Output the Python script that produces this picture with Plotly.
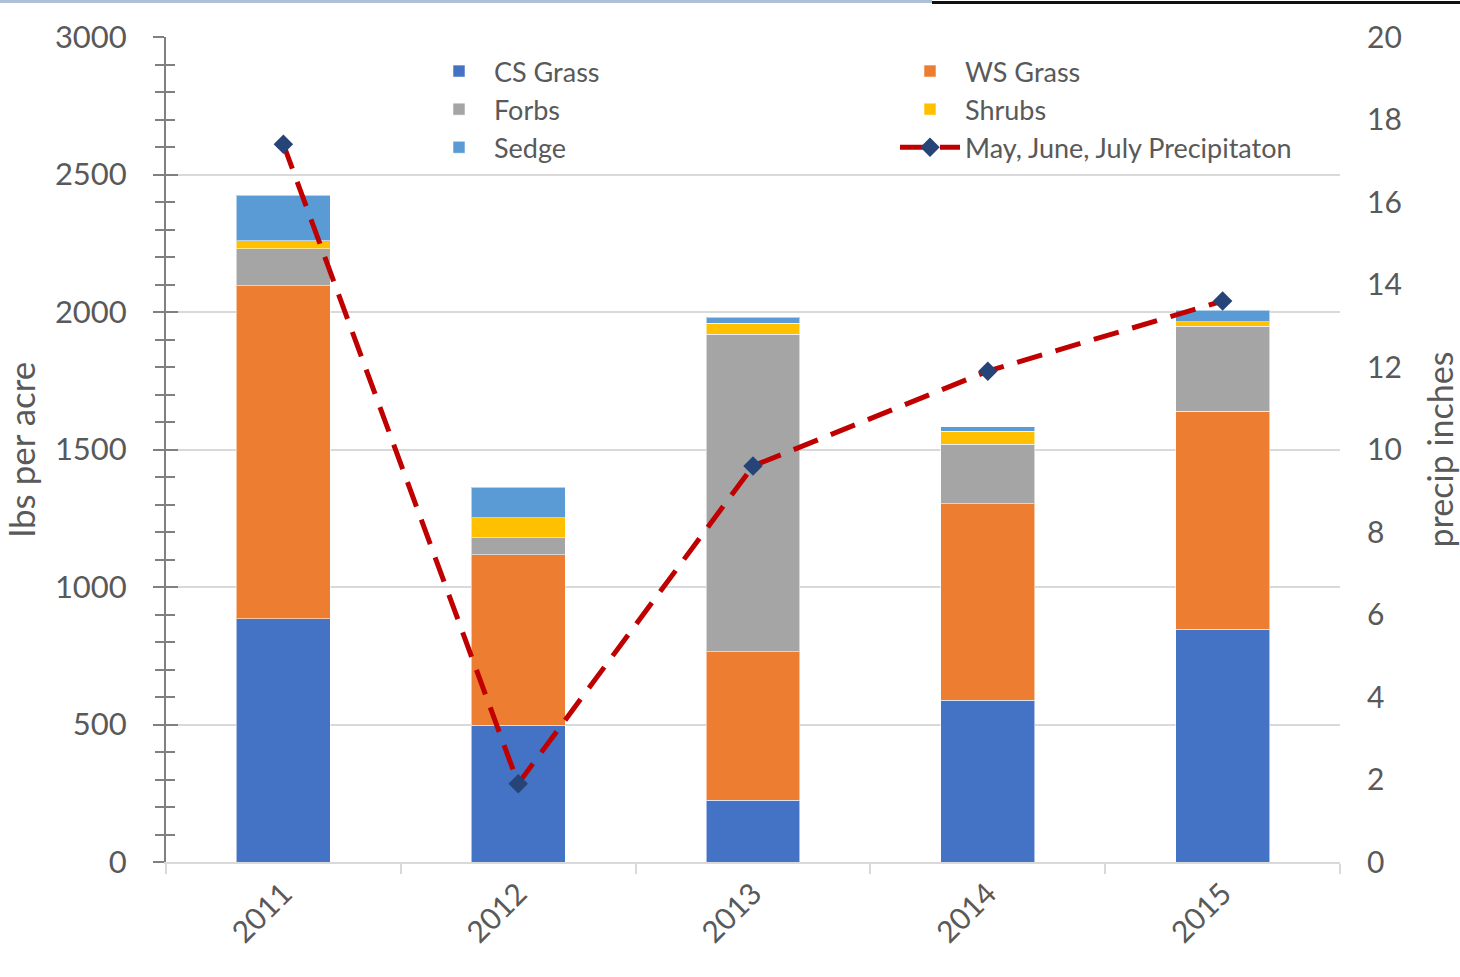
import plotly.graph_objects as go

# Annual forage production by plant group (lbs per acre) and summer rainfall
years = ["2011", "2012", "2013", "2014", "2015"]
cs_grass = [885, 497, 225, 589, 847]
ws_grass = [1210, 620, 539, 713, 793]
forbs = [135, 62, 1155, 217, 308]
shrubs = [29, 73, 41, 48, 16]
sedge = [166, 110, 21, 15, 43]
precip = [17.4, 1.9, 9.6, 11.9, 13.6]

series = [
    ("CS Grass", cs_grass, "#4472C4"),
    ("WS Grass", ws_grass, "#ED7D31"),
    ("Forbs", forbs, "#A5A5A5"),
    ("Shrubs", shrubs, "#FFC000"),
    ("Sedge", sedge, "#5B9BD5"),
]

W, H = 1460, 977
ML, MR, MT, MB = 166, 120, 37, 115
PW, PH = W - ML - MR, H - MT - MB

FONT = "Lato"
TXT = "#595959"
AXIS = "#808080"
GRID = "#D9D9D9"

fig = go.Figure()
for name, vals, col in series:
    fig.add_trace(go.Bar(
        x=years, y=vals, name=name,
        marker=dict(color=col, line=dict(color="rgba(255,255,255,0.55)", width=1)),
    ))

fig.add_trace(go.Scatter(
    x=years, y=precip, name="May, June, July Precipitaton", yaxis="y2",
    mode="lines+markers",
    line=dict(color="#C00000", width=5, dash="26px,14px"),
    marker=dict(symbol="diamond", size=15, color="#264478"),
))

fig.update_layout(
    width=W, height=H,
    margin=dict(l=ML, r=MR, t=MT, b=MB, autoexpand=False),
    plot_bgcolor="white", paper_bgcolor="white",
    barmode="stack", bargap=0.6,
    font=dict(family=FONT, color=TXT),
    showlegend=True,
    legend=dict(
        orientation="h", x=(424 - ML) / PW, xanchor="left",
        y=1 - (47 - MT) / PH, yanchor="top",
        entrywidth=396, itemwidth=60,
        font=dict(size=27, color=TXT, family=FONT),
        tracegroupgap=0, bgcolor="rgba(0,0,0,0)",
        traceorder="normal",
    ),
    xaxis=dict(
        type="category", range=[-0.5, 4.5], automargin=False,
        showline=True, linecolor=GRID, linewidth=2,
        tickson="boundaries", ticks="outside", ticklen=10,
        tickcolor=GRID, tickwidth=2,
        tickangle=-45, tickfont=dict(size=30, color=TXT),
        showgrid=False,
    ),
    yaxis=dict(
        range=[0, 3000], dtick=500, automargin=False,
        showline=True, linecolor=AXIS, linewidth=2,
        ticks="outside", ticklen=11, tickcolor=AXIS, tickwidth=2,
        minor=dict(dtick=100, ticks="outside", ticklen=9, tickcolor=AXIS,
                   tickwidth=2, showgrid=False),
        showgrid=True, gridcolor=GRID, gridwidth=2,
        tickfont=dict(size=31, color=TXT),
        ticklabelstandoff=20,
        title=dict(text="lbs per acre", font=dict(size=35, color=TXT), standoff=12),
        zeroline=False,
    ),
    yaxis2=dict(
        overlaying="y", side="right", range=[0, 20], dtick=2, automargin=False,
        showgrid=False, showline=False, ticks="", zeroline=False,
        tickfont=dict(size=30, color=TXT),
        ticklabelstandoff=26,
        title=dict(text="precip inches", font=dict(size=34, color=TXT), standoff=28),
    ),
    # inner half of the cross-style tick marks on the left axis
    yaxis3=dict(
        overlaying="y", side="left", range=[0, 3000], dtick=500, automargin=False,
        showline=False, showgrid=False, zeroline=False, showticklabels=False,
        ticks="inside", ticklen=12, tickcolor=AXIS, tickwidth=2,
        minor=dict(dtick=100, ticks="inside", ticklen=9, tickcolor=AXIS,
                   tickwidth=2, showgrid=False),
    ),
)

# thin window edge along the top of the page
def px_x(p):
    return (p - ML) / PW

def px_y(p):
    return 1 + (MT - p) / PH

fig.add_shape(type="rect", xref="paper", yref="paper", layer="above",
              x0=px_x(0), x1=px_x(932), y0=px_y(3), y1=px_y(0),
              fillcolor="#AFC0D6", line=dict(width=0))
fig.add_shape(type="rect", xref="paper", yref="paper", layer="above",
              x0=px_x(932), x1=px_x(W), y0=px_y(4), y1=px_y(1),
              fillcolor="#111111", line=dict(width=0))

# dummy trace so the overlay axis for inner ticks is drawn
fig.add_trace(go.Scatter(x=[years[0]], y=[0], yaxis="y3", mode="markers",
                         marker=dict(opacity=0), showlegend=False, hoverinfo="skip"))

fig.write_html("out.html")
